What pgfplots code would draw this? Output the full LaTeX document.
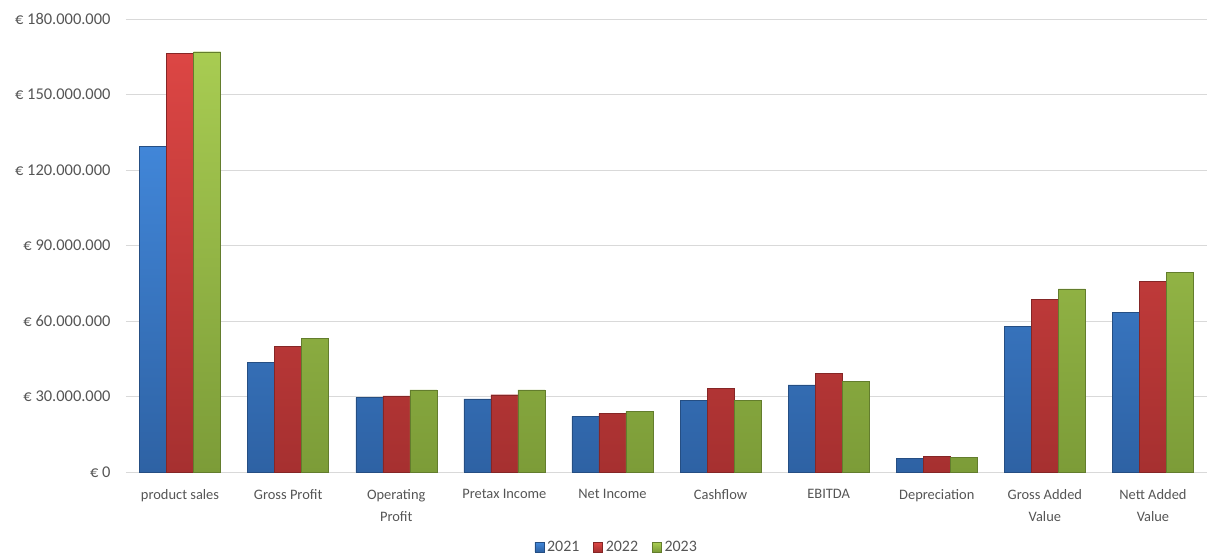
\documentclass[border=0pt]{standalone}
\usepackage{fontspec}
\setmainfont{Carlito}
\usepackage{pgfplots}
\pgfplotsset{compat=1.18}

\definecolor{txt}{HTML}{555555}
\definecolor{gridc}{HTML}{D9D9D9}
\definecolor{blueT}{HTML}{4186D8}
\definecolor{blueB}{HTML}{2E62A4}
\definecolor{redT}{HTML}{DC4644}
\definecolor{redB}{HTML}{A63030}
\definecolor{greenT}{HTML}{A8CC52}
\definecolor{greenB}{HTML}{7C9C38}

% values in millions of euro
\pgfplotstableread{
x  a2021  a2022  a2023
0  129.5  166.3  167.0
1  43.6   49.9   53.0
2  29.7   30.2   32.6
3  29.1   30.7   32.6
4  22.1   23.2   24.1
5  28.6   33.1   28.5
6  34.6   39.1   35.9
7  5.3    6.2    5.7
8  57.9   68.7   72.8
9  63.4   75.8   79.3
}\datatable

\begin{document}
\begin{tikzpicture}[font=\fontsize{14.5}{22}\selectfont]
\useasboundingbox (-126bp,-86bp) rectangle (1083bp,472bp);
\begin{axis}[
  scale only axis,
  width=1081bp, height=453bp,
  ybar=0pt, bar width=27bp,
  xmin=-0.5, xmax=9.5,
  ymin=0, ymax=180,
  ytick={0,30,...,180},
  yticklabels={€ 0,€ 30.000.000,€ 60.000.000,€ 90.000.000,€ 120.000.000,€ 150.000.000,€ 180.000.000},
  xtick=data,
  xticklabels={product sales,Gross Profit,{Operating\\Profit},Pretax Income,Net Income,Cashflow,EBITDA,Depreciation,{Gross Added\\Value},{Nett Added\\Value}},
  xticklabel style={align=center, text=txt, yshift=-14bp},
  yticklabel style={text=txt, xshift=-12bp, font=\fontsize{16.5}{20}\selectfont},
  xmajorgrids=false,
  ymajorgrids, grid style={draw=gridc, line width=0.8bp},
  axis line style={draw=none},
  major tick length=0pt,
  tick style={draw=none},
  legend columns=3,
  legend style={draw=none, at={(0.454,-0.166)}, anchor=center, text=txt,
    font=\fontsize{16}{20}\selectfont,
    /tikz/every odd column/.append style={column sep=1bp},
    /tikz/every even column/.append style={column sep=12bp}},
  legend image code/.code={\path[#1] (0bp,-4.5bp) rectangle (9bp,4.5bp);},
  clip=false,
]
\addplot[draw=blueB!80!black, line width=0.4bp, top color=blueT, bottom color=blueB] table[x=x,y=a2021] {\datatable};
\addplot[draw=redB!80!black, line width=0.4bp, top color=redT, bottom color=redB] table[x=x,y=a2022] {\datatable};
\addplot[draw=greenB!80!black, line width=0.4bp, top color=greenT, bottom color=greenB] table[x=x,y=a2023] {\datatable};
\legend{2021,2022,2023}
\end{axis}
\end{tikzpicture}
\end{document}
